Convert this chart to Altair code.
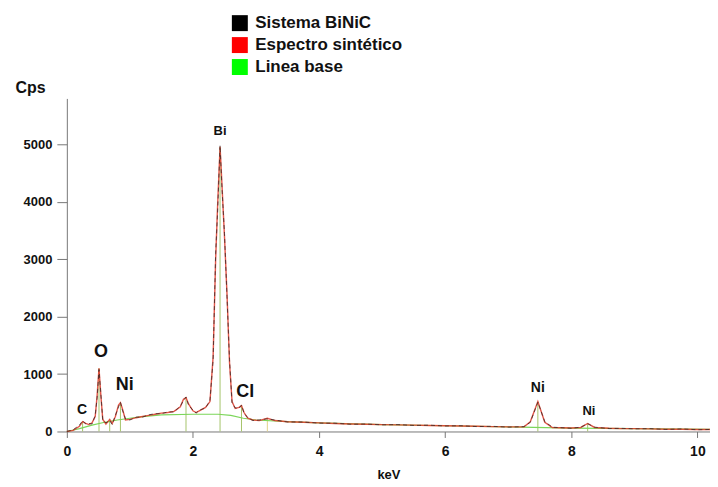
import altair as alt
import pandas as pd

# ---- data ----
energy = [0.0, 0.1, 0.2, 0.25, 0.3, 0.35, 0.4, 0.45, 0.48, 0.51, 0.54, 0.57, 0.62, 0.68, 0.72,
          0.77, 0.82, 0.85, 0.88, 0.93, 1.0, 1.1, 1.2, 1.3, 1.4, 1.5, 1.6, 1.7, 1.8, 1.85,
          1.89, 1.93, 2.0, 2.05, 2.1, 2.2, 2.27, 2.32, 2.36, 2.39, 2.43, 2.46, 2.5, 2.54, 2.58,
          2.62, 2.67, 2.73, 2.77, 2.81, 2.87, 2.95, 3.05, 3.18, 3.3, 3.5, 3.75, 4.0, 4.25, 4.5,
          4.75, 5.0, 5.25, 5.5, 5.75, 6.0, 6.25, 6.5, 6.75, 7.0, 7.25, 7.35, 7.47, 7.58, 7.7,
          8.0, 8.15, 8.26, 8.37, 8.6, 8.8, 9.0, 9.25, 9.5, 9.75, 10.0, 10.2]

synthetic = [0, 20, 90, 170, 140, 120, 150, 260, 620, 1100, 620, 210, 130, 210, 140,
             260, 460, 500, 400, 200, 210, 240, 260, 280, 300, 320, 330, 350, 430, 560,
             590, 480, 360, 330, 360, 420, 520, 1300, 3000, 3900, 4960, 4300, 3400, 2400, 1200,
             520, 400, 420, 450, 330, 230, 200, 190, 230, 190, 170, 160, 150, 140, 130,
             125, 120, 115, 110, 105, 100, 95, 90, 85, 80, 80, 170, 520, 160, 70,
             60, 70, 140, 70, 55, 50, 50, 45, 40, 40, 35, 35]

measured = [0, 30, 110, 190, 130, 140, 130, 280, 580, 1080, 650, 190, 150, 190, 120,
            280, 430, 510, 380, 220, 200, 250, 250, 290, 310, 310, 340, 340, 440, 540,
            600, 460, 370, 320, 370, 410, 540, 1250, 3100, 3800, 4980, 4250, 3450, 2350, 1250,
            500, 410, 400, 460, 320, 240, 190, 200, 220, 200, 165, 165, 145, 145, 125,
            130, 115, 120, 105, 110, 95, 100, 85, 90, 75, 85, 160, 510, 170, 75,
            55, 75, 135, 75, 50, 55, 45, 50, 35, 45, 30, 35]

base_energy = [0.0, 0.2, 0.4, 0.6, 0.8, 1.0, 1.2, 1.5, 2.0, 2.4, 2.6, 2.8, 3.0, 3.5, 4.0,
               5.0, 6.0, 7.0, 8.0, 9.0, 10.2]
base_cps = [0, 50, 110, 160, 200, 230, 260, 290, 300, 300, 280, 230, 200, 170, 150,
            120, 100, 80, 60, 50, 35]

marker_energy = [0.25, 0.51, 0.68, 0.85, 1.89, 2.43, 2.77, 3.18, 7.47, 8.26]
marker_top = [180, 1100, 210, 500, 590, 4950, 450, 230, 520, 140]
marker_color = ["#a6c46a", "#a6c46a", "#a6c46a", "#a6c46a", "#a6c46a", "#a6c46a",
                "#a6c46a", "#e3d38a", "#a6c46a", "#a6c46a"]

peak_label = ["Bi", "O", "Ni", "C", "Cl", "Ni", "Ni"]
peak_x = [2.43, 0.54, 0.92, 0.24, 2.83, 7.47, 8.28]
peak_y = [5225, 1390, 815, 380, 695, 765, 365]
peak_size = [13, 18, 18, 14, 18, 14, 13]

series_names = ["Sistema BiNiC", "Espectro sintético", "Linea base"]
series_colors = ["#000000", "#ff0000", "#00ff00"]

assert len(energy) == len(synthetic) == len(measured)

FONT = "Liberation Sans"

spec_df = pd.DataFrame({"keV": energy, "synthetic": synthetic, "measured": measured})
base_df = pd.DataFrame({"keV": base_energy, "cps": base_cps})
marker_df = pd.DataFrame({"keV": marker_energy, "top": marker_top, "col": marker_color})
label_df = pd.DataFrame({"label": peak_label, "keV": peak_x, "cps": peak_y, "fs": peak_size})
legend_df = pd.DataFrame({"serie": series_names, "keV": [0, 0, 0], "cps": [0, 0, 0]})

xscale = alt.Scale(domain=[0, 10.2], nice=False, zero=False)
yscale = alt.Scale(domain=[0, 5800], nice=False)

xaxis = alt.Axis(values=[0, 2, 4, 6, 8, 10], format="d", title="keV", grid=False, tickSize=6,
                 labelFontSize=14, labelFontWeight="bold", labelFont=FONT, labelPadding=7,
                 titleFontSize=13, titleFontWeight="bold", titleFont=FONT, titlePadding=10,
                 domainColor="#777777", tickColor="#777777", labelColor="#111111",
                 titleColor="#111111", labelFlush=False)
yaxis = alt.Axis(values=[0, 1000, 2000, 3000, 4000, 5000], format="d", title="Cps",
                 grid=False, tickSize=10, labelPadding=5, labelFontSize=13,
                 labelFontWeight="bold", labelFont=FONT, titleFont=FONT, titleFontSize=16,
                 titleFontWeight="bold", titleAngle=0, titleX=-37, titleY=-11,
                 titleAlign="center", titleBaseline="middle", domainColor="#777777",
                 tickColor="#777777", labelColor="#111111", titleColor="#111111")

markers = alt.Chart(marker_df).mark_rule(strokeWidth=1).encode(
    x=alt.X("keV:Q", scale=xscale, axis=xaxis),
    y=alt.Y("top:Q", scale=yscale, axis=yaxis),
    y2=alt.datum(0),
    stroke=alt.Stroke("col:N", scale=None, legend=None),
)

baseline = alt.Chart(base_df).mark_line(color="#7cd65a", strokeWidth=1.2).encode(
    x="keV:Q", y="cps:Q")

synth = alt.Chart(spec_df).mark_line(color="#e03a2a", strokeWidth=1.4, opacity=0.85).encode(
    x="keV:Q", y="synthetic:Q")

meas = alt.Chart(spec_df).mark_line(color="#222222", strokeWidth=1, strokeDash=[4, 3],
                                    opacity=0.7).encode(
    x="keV:Q", y="measured:Q")

labels = alt.Chart(label_df).mark_text(font=FONT, fontWeight="bold", color="#111111",
                                       baseline="middle", align="center").encode(
    x="keV:Q", y="cps:Q", text="label:N",
    size=alt.Size("fs:Q", scale=None, legend=None),
)

legend_layer = alt.Chart(legend_df).mark_square(opacity=0, size=256).encode(
    x="keV:Q", y="cps:Q",
    color=alt.Color("serie:N",
                    scale=alt.Scale(domain=series_names, range=series_colors),
                    legend=alt.Legend(title=None, orient="none", legendX=165, legendY=-84,
                                      symbolType="square", symbolSize=256,
                                      symbolOpacity=1, symbolStrokeWidth=0,
                                      labelFont=FONT, labelFontSize=17,
                                      labelFontWeight="bold", labelColor="#111111",
                                      labelOffset=7, rowPadding=4)),
)

chart = alt.layer(markers, baseline, synth, meas, labels, legend_layer).properties(
    width=645, height=334,
    autosize=alt.AutoSizeParams(type="none"),
    padding={"left": 59, "top": 90, "right": 0, "bottom": 54},
).configure(background="white").configure_view(stroke=None)

chart.save("out.html", embed_options={"renderer": "svg", "actions": False})
